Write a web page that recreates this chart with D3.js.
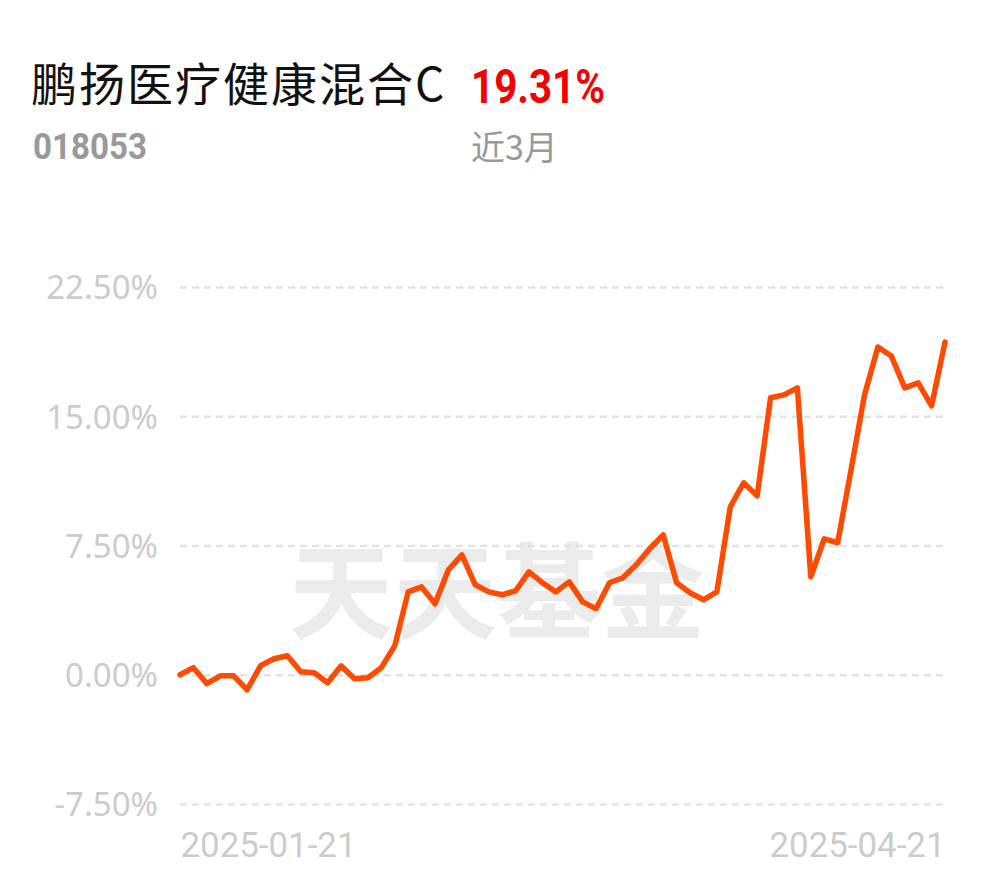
<!DOCTYPE html>
<html>
<head>
<meta charset="utf-8">
<script src="https://cdn.jsdelivr.net/npm/d3@7"></script>
<style>
  html, body { margin: 0; padding: 0; background: #fff; }
  svg { display: block; }
</style>
</head>
<body>
<svg id="chart" width="990" height="878"></svg>
<script>
const fundName = "鹏扬医疗健康混合C";
const fundCode = "018053";
const periodLabel = "近3月";
const periodReturn = "19.31%";

const dates = [
  "2025-01-21","2025-01-22","2025-01-23","2025-01-24","2025-01-27",
  "2025-02-05","2025-02-06","2025-02-07","2025-02-10","2025-02-11","2025-02-12","2025-02-13","2025-02-14",
  "2025-02-17","2025-02-18","2025-02-19","2025-02-20","2025-02-21",
  "2025-02-24","2025-02-25","2025-02-26","2025-02-27","2025-02-28",
  "2025-03-03","2025-03-04","2025-03-05","2025-03-06","2025-03-07",
  "2025-03-10","2025-03-11","2025-03-12","2025-03-13","2025-03-14",
  "2025-03-17","2025-03-18","2025-03-19","2025-03-20","2025-03-21",
  "2025-03-24","2025-03-25","2025-03-26","2025-03-27","2025-03-28",
  "2025-03-31","2025-04-01","2025-04-02","2025-04-03",
  "2025-04-07","2025-04-08","2025-04-09","2025-04-10","2025-04-11",
  "2025-04-14","2025-04-15","2025-04-16","2025-04-17","2025-04-18",
  "2025-04-21"
];
const returns = [
  0.00, 0.41, -0.52, -0.06, -0.06,
  -0.87, 0.52, 0.93, 1.10, 0.17, 0.12, -0.46, 0.52,
  -0.23, -0.17, 0.41, 1.68, 4.81,
  5.10, 4.12, 6.09, 6.96, 5.22,
  4.81, 4.64, 4.87, 5.97, 5.34,
  4.81, 5.39, 4.23, 3.83, 5.34,
  5.63, 6.38, 7.31, 8.12, 5.34,
  4.76, 4.35, 4.81, 9.74, 11.14,
  10.38, 16.07, 16.24, 16.65,
  5.68, 7.89, 7.66, 11.89, 16.24,
  19.02, 18.50, 16.65, 16.94, 15.60,
  19.31
];
const yTicks = [-7.5, 0, 7.5, 15, 22.5];
const xTickLabels = ["2025-01-21", "2025-04-21"];

const svg = d3.select("#chart");

const x = d3.scalePoint().domain(dates).range([180, 945]);
const y = d3.scaleLinear().domain([-7.5, 22.5]).range([804, 287]);

// Header
svg.append("text")
  .attr("x", 31).attr("y", 101)
  .attr("font-family", "'Noto Sans CJK SC', sans-serif")
  .attr("font-size", 46)
  .attr("letter-spacing", 2)
  .attr("fill", "#111")
  .text(fundName);

svg.append("text")
  .attr("x", 471).attr("y", 103)
  .attr("font-family", "Roboto, sans-serif")
  .attr("font-weight", "bold")
  .attr("font-size", 49)
  .attr("textLength", 134)
  .attr("lengthAdjust", "spacingAndGlyphs")
  .attr("fill", "#f50000")
  .text(periodReturn);

svg.append("text")
  .attr("x", 33).attr("y", 159)
  .attr("font-family", "Roboto, sans-serif")
  .attr("font-weight", "bold")
  .attr("font-size", 36)
  .attr("textLength", 114)
  .attr("lengthAdjust", "spacingAndGlyphs")
  .attr("fill", "#999")
  .text(fundCode);

svg.append("text")
  .attr("x", 471).attr("y", 160)
  .attr("font-family", "'Noto Sans CJK SC', sans-serif")
  .attr("font-size", 34)
  .attr("fill", "#999")
  .text(periodLabel);

// Watermark
svg.append("text")
  .attr("x", 497).attr("y", 631)
  .attr("text-anchor", "middle")
  .attr("font-family", "'Noto Sans CJK SC', sans-serif")
  .attr("font-weight", 700)
  .attr("font-size", 104)
  .attr("fill", "#ebebeb")
  .text("天天基金");

// Grid
const yAxis = d3.axisLeft(y).tickValues(yTicks)
  .tickSize(-(945 - 180))
  .tickPadding(22)
  .tickFormat(d => d.toFixed(2) + "%");

const gy = svg.append("g").attr("transform", "translate(180,0)").call(yAxis);
gy.select(".domain").remove();
gy.selectAll(".tick line")
  .attr("stroke", "#e3e3e3")
  .attr("stroke-width", 2.5)
  .attr("stroke-dasharray", "7,5");
gy.selectAll(".tick text")
  .attr("x", -22)
  .attr("dy", "0.36em")
  .attr("font-family", "'Noto Sans', sans-serif")
  .attr("font-size", 33)
  .attr("fill", "#cccccc");

// X axis labels
const xAxis = d3.axisBottom(x).tickValues(xTickLabels).tickSize(0).tickPadding(0);
const gx = svg.append("g").attr("transform", "translate(0,857)").call(xAxis);
gx.select(".domain").remove();
gx.selectAll(".tick text")
  .attr("y", 0).attr("dy", 0)
  .attr("font-family", "Roboto, sans-serif")
  .attr("font-size", 35)
  .attr("textLength", 176)
  .attr("lengthAdjust", "spacingAndGlyphs")
  .attr("fill", "#cccccc")
  .attr("text-anchor", (d, i) => i === 0 ? "start" : "end");

// Line
const line = d3.line()
  .x((d, i) => x(dates[i]))
  .y(d => y(d));

svg.append("path")
  .datum(returns)
  .attr("fill", "none")
  .attr("stroke", "#ff4a00")
  .attr("stroke-width", 5.5)
  .attr("stroke-linejoin", "round")
  .attr("stroke-linecap", "round")
  .attr("d", line);
</script>
</body>
</html>
